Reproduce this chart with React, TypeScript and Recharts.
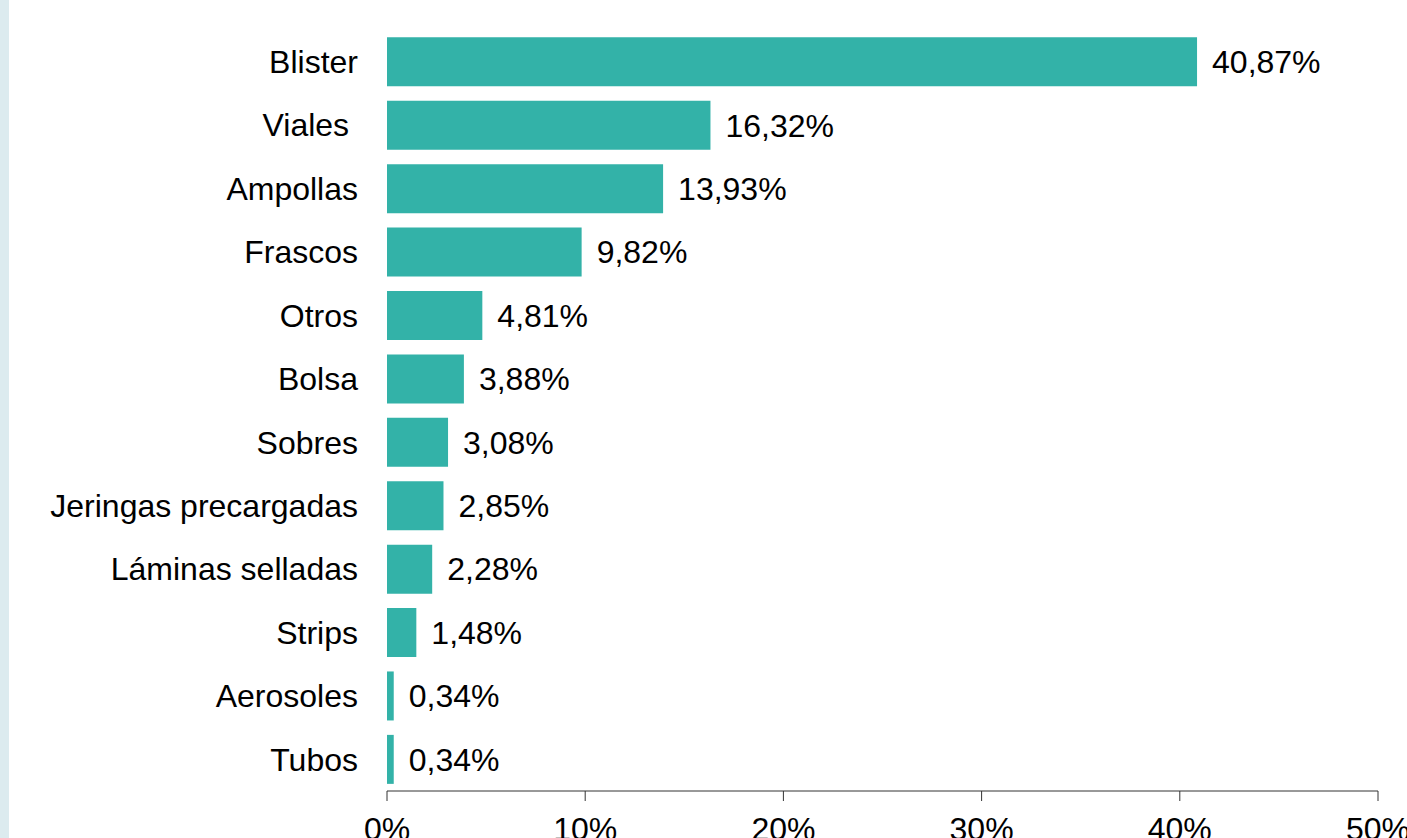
import React from 'react';
import { BarChart, Bar, XAxis, YAxis, LabelList } from 'recharts';

const categories = [
  'Blister',
  'Viales\u00a0',
  'Ampollas',
  'Frascos',
  'Otros',
  'Bolsa',
  'Sobres',
  'Jeringas precargadas',
  'Láminas selladas',
  'Strips',
  'Aerosoles',
  'Tubos',
];
const shares = [40.87, 16.32, 13.93, 9.82, 4.81, 3.88, 3.08, 2.85, 2.28, 1.48, 0.34, 0.34];
const xTicks = [0, 10, 20, 30, 40, 50];

const data = categories.map((name, i) => ({ name, value: shares[i] }));

const fmt = (v: number) => v.toFixed(2).replace('.', ',') + '%';
const font = '"Liberation Sans", Arial, sans-serif';

const App: React.FC = () => {
  return (
    <div style={{ position: 'absolute', left: 0, top: 0, width: 1407, height: 838, background: '#fff', overflow: 'hidden' }}>
      <div style={{ position: 'absolute', left: 0, top: 0, width: 9, height: 838, background: '#dcebef' }} />
      <BarChart
        width={1407}
        height={838}
        data={data}
        layout="vertical"
        margin={{ top: 30, right: 29, bottom: 0, left: 0 }}
        barCategoryGap="11.5%"
        style={{ fontFamily: font }}
      >
        <XAxis
          type="number"
          domain={[0, 50]}
          ticks={xTicks}
          tickFormatter={(v: number) => `${v}%`}
          height={47}
          tickSize={10}
          tickMargin={16}
          stroke="#333"
          tick={{ fill: '#000', fontSize: 32 }}
          interval={0}
        />
        <YAxis
          type="category"
          dataKey="name"
          width={387}
          axisLine={false}
          tickLine={false}
          tickSize={0}
          tickMargin={29}
          interval={0}
          tick={{ fill: '#000', fontSize: 32 }}
        />
        <Bar dataKey="value" fill="#33b2a8" isAnimationActive={false}>
          <LabelList
            dataKey="value"
            position="right"
            offset={15}
            formatter={(v: number) => fmt(v)}
            style={{ fill: '#000', fontSize: 32 }}
          />
        </Bar>
      </BarChart>
    </div>
  );
};

export default App;
